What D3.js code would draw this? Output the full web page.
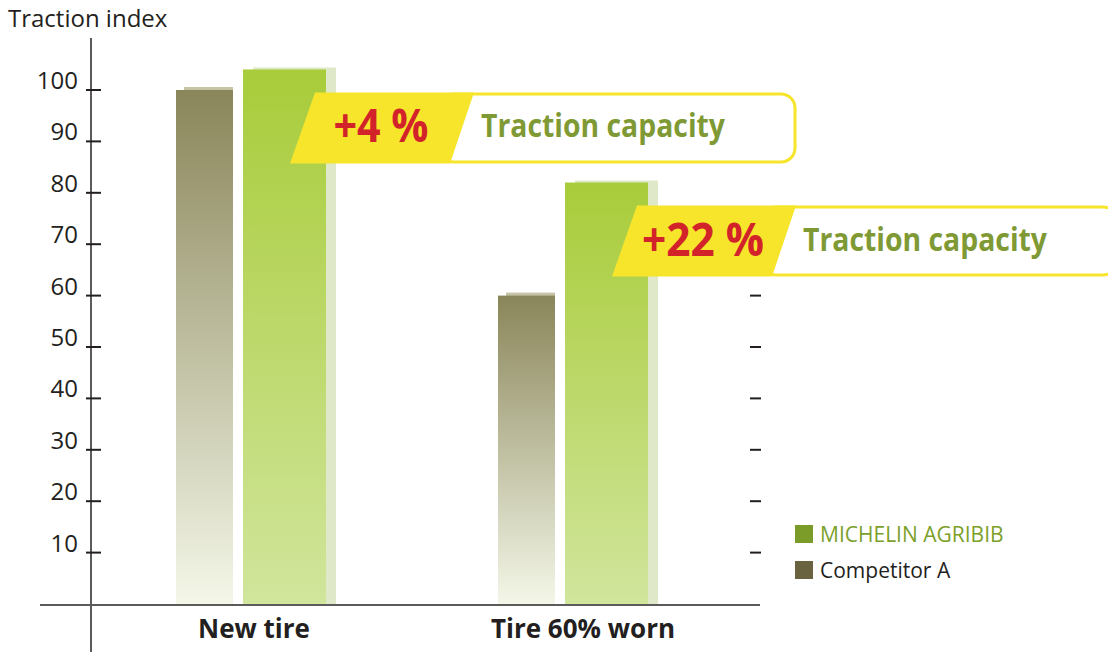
<!DOCTYPE html>
<html>
<head>
<meta charset="utf-8">
<script src="https://cdn.jsdelivr.net/npm/d3@7"></script>
<style>
  body { margin: 0; background: #fff; }
  svg { display: block; }
</style>
</head>
<body>
<script>
// chart data
var categories = ["New tire", "Tire 60% worn"];
var competitorValues = [100, 60];
var michelinValues = [104, 82];
var gainLabels = ["+4 %", "+22 %"];
var yTicks = [10, 20, 30, 40, 50, 60, 70, 80, 90, 100];
var rightTicks = [10, 20, 30, 40, 50, 60];
var legendLabels = ["MICHELIN AGRIBIB", "Competitor A"];

var w = 1108, h = 652;
var font = "'Open Sans', 'Noto Sans', sans-serif";

var svg = d3.select("body").append("svg")
    .attr("width", w)
    .attr("height", h);

var defs = svg.append("defs");

// vertical gradients for the bars
function gradient(id, top, bottom) {
    var g = defs.append("linearGradient")
        .attr("id", id)
        .attr("x1", 0).attr("y1", 0)
        .attr("x2", 0).attr("y2", 1);
    g.append("stop").attr("offset", "0%").attr("stop-color", top);
    g.append("stop").attr("offset", "100%").attr("stop-color", bottom);
}
gradient("gradComp", "#8a865a", "#f4f7e8");
gradient("gradMich", "#a8cc3a", "#d1e59c");

// scales
var y = d3.scaleLinear().domain([0, 100]).range([604, 90]);
var x = d3.scalePoint().domain(categories).range([251, 573]);

var compW = 57, michW = 83;

// vertical axis line
svg.append("line")
    .attr("x1", 91).attr("x2", 91)
    .attr("y1", 38).attr("y2", h)
    .attr("stroke", "#5b5b5b").attr("stroke-width", 2);

// bars: shadows first
categories.forEach(function(c, i) {
    var cx = x(c);
    var compX = cx - 75;
    var michX = cx - 8;

    svg.append("rect")
        .attr("x", compX + 8).attr("y", y(competitorValues[i]) - 3)
        .attr("width", compW - 8).attr("height", y(0) - y(competitorValues[i]) + 3)
        .attr("fill", "#c6c3a6");
    svg.append("rect")
        .attr("x", compX).attr("y", y(competitorValues[i]))
        .attr("width", compW).attr("height", y(0) - y(competitorValues[i]))
        .attr("fill", "url(#gradComp)");

    svg.append("rect")
        .attr("x", michX + 10).attr("y", y(michelinValues[i]) - 2)
        .attr("width", michW).attr("height", y(0) - y(michelinValues[i]) + 2)
        .attr("fill", "#dfe9c9");
    svg.append("rect")
        .attr("x", michX).attr("y", y(michelinValues[i]))
        .attr("width", michW).attr("height", y(0) - y(michelinValues[i]))
        .attr("fill", "url(#gradMich)");
});

// baseline
svg.append("line")
    .attr("x1", 40).attr("x2", 760)
    .attr("y1", y(0) + 1).attr("y2", y(0) + 1)
    .attr("stroke", "#5b5b5b").attr("stroke-width", 2);

// left ticks + labels
svg.selectAll(".ltick")
    .data(yTicks)
    .enter().append("line")
    .attr("x1", 86).attr("x2", 101)
    .attr("y1", function(d) { return y(d); })
    .attr("y2", function(d) { return y(d); })
    .attr("stroke", "#231f20").attr("stroke-width", 2);

svg.selectAll(".llabel")
    .data(yTicks)
    .enter().append("text")
    .attr("x", 78)
    .attr("y", function(d) { return y(d) - 1; })
    .attr("text-anchor", "end")
    .attr("font-family", font)
    .attr("font-size", 24)
    .attr("fill", "#231f20")
    .text(function(d) { return d; });

// right ticks
svg.selectAll(".rtick")
    .data(rightTicks)
    .enter().append("line")
    .attr("x1", 750).attr("x2", 761)
    .attr("y1", function(d) { return y(d); })
    .attr("y2", function(d) { return y(d); })
    .attr("stroke", "#231f20").attr("stroke-width", 2);

// y title
svg.append("text")
    .attr("x", 8).attr("y", 27)
    .attr("font-family", font)
    .attr("font-size", 24)
    .attr("fill", "#231f20")
    .text("Traction index");

// category labels
svg.selectAll(".cat")
    .data(categories)
    .enter().append("text")
    .attr("x", function(d, i) { return x(d) + (i === 0 ? 3 : 10); })
    .attr("y", 638)
    .attr("text-anchor", "middle")
    .attr("font-family", font)
    .attr("font-weight", "bold")
    .attr("font-size", 26)
    .attr("fill", "#231f20")
    .text(function(d) { return d; });

// callouts
var gainWidths = [95, 122];
categories.forEach(function(c, i) {
    var x0 = x(c) - 8 + 47;
    var y0 = y(michelinValues[i]) + 23;

    svg.append("rect")
        .attr("x", x0 + 150).attr("y", y0 + 1.5)
        .attr("width", 355).attr("height", 68)
        .attr("rx", 14)
        .attr("fill", "#fff")
        .attr("stroke", "#f6e52a").attr("stroke-width", 3);

    svg.append("polygon")
        .attr("points", [[x0 + 25, y0], [x0 + 184, y0], [x0 + 160, y0 + 71], [x0, y0 + 71]]
            .map(function(p) { return p.join(","); }).join(" "))
        .attr("fill", "#f6e52a");

    svg.append("text")
        .attr("x", x0 + 91 - gainWidths[i] / 2).attr("y", y0 + 50)
        .attr("font-family", font)
        .attr("font-weight", "bold")
        .attr("font-size", 46)
        .attr("textLength", gainWidths[i])
        .attr("lengthAdjust", "spacingAndGlyphs")
        .attr("fill", "#d2232a")
        .text(gainLabels[i]);

    svg.append("text")
        .attr("x", x0 + 191).attr("y", y0 + 45)
        .attr("font-family", font)
        .attr("font-weight", "bold")
        .attr("font-size", 33)
        .attr("textLength", 244)
        .attr("lengthAdjust", "spacingAndGlyphs")
        .attr("fill", "#7f9a35")
        .text("Traction capacity");
});

// legend
var legendColors = ["#7c9c2a", "#696340"];
var textColors = ["#7c9f2a", "#231f20"];
legendLabels.forEach(function(l, i) {
    svg.append("rect")
        .attr("x", 795).attr("y", 525 + i * 36)
        .attr("width", 18).attr("height", 18)
        .attr("fill", legendColors[i]);
    svg.append("text")
        .attr("x", 820).attr("y", 542 + i * 36)
        .attr("font-family", font)
        .attr("font-size", 21)
        .attr("fill", textColors[i])
        .text(l);
});
</script>
</body>
</html>
